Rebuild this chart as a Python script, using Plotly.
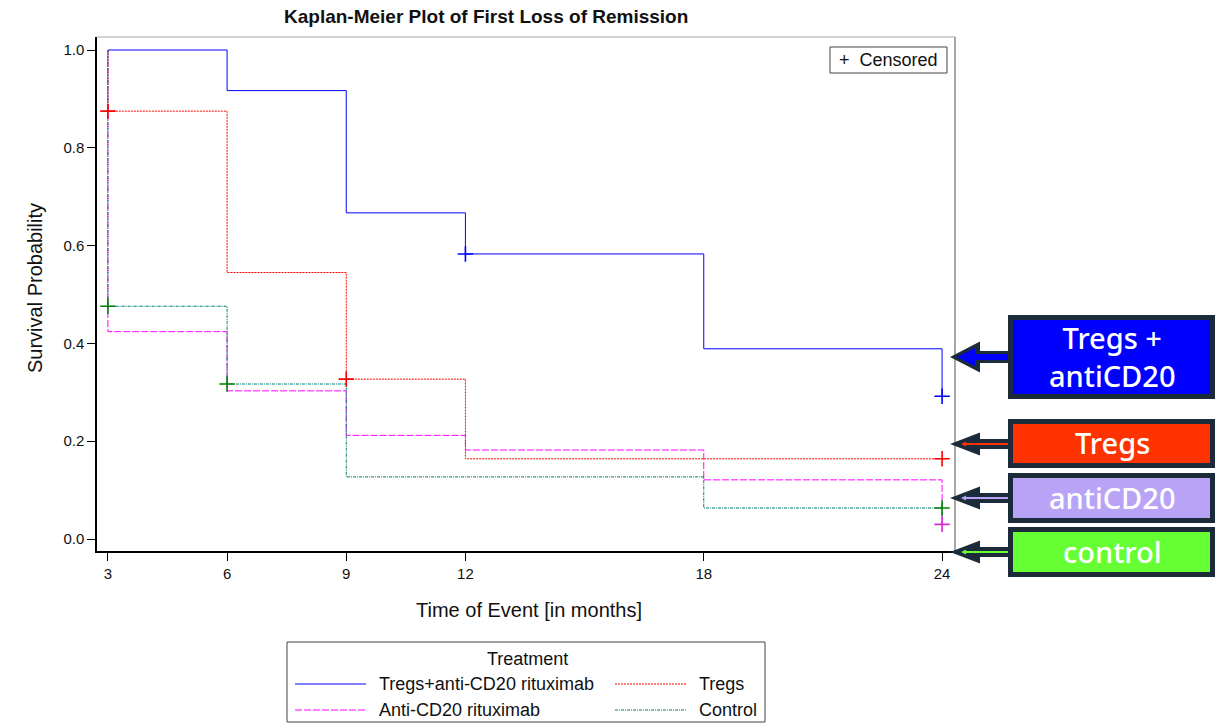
import plotly.graph_objects as go

# Kaplan-Meier step data (time in months, survival probability)
treg_cd20_t = [3, 6, 9, 12, 18, 24, 24]
treg_cd20_s = [1.0, 0.917, 0.667, 0.583, 0.389, 0.389, 0.292]
tregs_t = [3, 3, 6, 9, 12, 24]
tregs_s = [1.0, 0.875, 0.545, 0.327, 0.164, 0.164]
cd20_t = [3, 3, 6, 9, 12, 18, 24, 24]
cd20_s = [1.0, 0.424, 0.303, 0.212, 0.182, 0.121, 0.121, 0.030]
control_t = [3, 3, 6, 9, 18, 24]
control_s = [1.0, 0.476, 0.317, 0.127, 0.0635, 0.0635]

# Censored observations
treg_cd20_cens_t = [12, 24]
treg_cd20_cens_s = [0.583, 0.292]
tregs_cens_t = [3, 9, 24]
tregs_cens_s = [0.875, 0.327, 0.164]
cd20_cens_t = [24]
cd20_cens_s = [0.030]
control_cens_t = [3, 6, 24]
control_cens_s = [0.476, 0.317, 0.0635]

x_ticks = [3, 6, 9, 12, 18, 24]
y_ticks = [0.0, 0.2, 0.4, 0.6, 0.8, 1.0]

series_names = ["Tregs+anti-CD20 rituximab", "Tregs", "Anti-CD20 rituximab", "Control"]
line_colors = ["#0000ff", "#ff0000", "#ff00ff", "#007a6e"]
line_dashes = ["solid", "2px,1px", "7px,2px", "3px,1px,1px,1px"]
cens_colors = ["#0000ff", "#ff0000", "#d02ad0", "#008000"]

label_texts = ["Tregs +<br>antiCD20", "Tregs", "antiCD20", "control"]
label_fills = ["#0000ff", "#ff3300", "#b9a3f7", "#66ff33"]

W, H = 1217, 728
L, R, T, B = 97, 955, 37, 551


def px(x):
    return (x - L) / (R - L)


def py(y):
    return (B - y) / (B - T)


fig = go.Figure()

curves = [(treg_cd20_t, treg_cd20_s), (tregs_t, tregs_s), (cd20_t, cd20_s), (control_t, control_s)]
cens = [(treg_cd20_cens_t, treg_cd20_cens_s), (tregs_cens_t, tregs_cens_s),
        (cd20_cens_t, cd20_cens_s), (control_cens_t, control_cens_s)]

for (t, s), name, c, d in zip(curves, series_names, line_colors, line_dashes):
    fig.add_trace(go.Scatter(x=t, y=s, mode="lines", name=name, line_shape="hv",
                             line=dict(color=c, width=1, dash=d), showlegend=False))

for (t, s), c in zip(cens, cens_colors):
    fig.add_trace(go.Scatter(x=t, y=s, mode="markers", showlegend=False, cliponaxis=False,
                             marker=dict(symbol="cross-thin", size=11,
                                         line=dict(color=c, width=1.6))))

shapes = []
annotations = []
txt_col = "#111111"

# frame: top and right borders
shapes.append(dict(type="line", xref="paper", yref="paper", x0=0, x1=1, y0=1, y1=1,
                   line=dict(color="#c4c4c4", width=1.5)))
shapes.append(dict(type="line", xref="paper", yref="paper", x0=1, x1=1, y0=0, y1=1,
                   line=dict(color="#8a8a8a", width=1.5)))

# censored key box
shapes.append(dict(type="rect", xref="paper", yref="paper", x0=px(830), x1=px(947),
                   y0=py(73), y1=py(47), line=dict(color="#444444", width=1)))
annotations.append(dict(text="+  Censored", xref="paper", yref="paper", x=px(888), y=py(60),
                        xanchor="center", yanchor="middle", showarrow=False,
                        font=dict(size=18, color=txt_col)))

# treatment key box
shapes.append(dict(type="rect", xref="paper", yref="paper", x0=px(287), x1=px(765),
                   y0=py(722), y1=py(642), line=dict(color="#444444", width=1)))
annotations.append(dict(text="Treatment", xref="paper", yref="paper", x=px(527), y=py(659),
                        xanchor="center", yanchor="middle", showarrow=False,
                        font=dict(size=18, color=txt_col)))
key_pos = [(295, 366, 377, 684), (615, 687, 697, 684), (295, 366, 377, 710), (615, 687, 697, 710)]
for (x0, x1, tx, yy), name, c, d in zip(key_pos, series_names, line_colors, line_dashes):
    shapes.append(dict(type="line", xref="paper", yref="paper", x0=px(x0), x1=px(x1),
                       y0=py(yy), y1=py(yy), line=dict(color=c, width=1, dash=d)))
    annotations.append(dict(text=name, xref="paper", yref="paper", x=px(tx), y=py(yy),
                            xanchor="left", yanchor="middle", showarrow=False,
                            font=dict(size=18, color=txt_col)))

# labelled callout boxes with arrows on the right
dark = "#1c2b39"
boxes = [(315, 399, 357, 15.5, 6), (419, 468, 444, 11.5, 5), (473, 523, 498, 11.5, 5),
         (527, 577, 552, 11.5, 5)]
for i, ((y0, y1, yc, hh, sh), txt, fill) in enumerate(zip(boxes, label_texts, label_fills)):
    # dark arrow
    path = (f"M {px(950)},{py(yc)} L {px(980)},{py(yc - hh)} L {px(980)},{py(yc - sh)} "
            f"L {px(1010)},{py(yc - sh)} L {px(1010)},{py(yc + sh)} L {px(980)},{py(yc + sh)} "
            f"L {px(980)},{py(yc + hh)} Z")
    shapes.append(dict(type="path", xref="paper", yref="paper", path=path,
                       fillcolor=dark, line=dict(width=0)))
    # inner coloured arrow
    if i == 0:
        ih, ish = 9, 3
        ipath = (f"M {px(957)},{py(yc)} L {px(975)},{py(yc - ih)} L {px(975)},{py(yc - ish)} "
                 f"L {px(1010)},{py(yc - ish)} L {px(1010)},{py(yc + ish)} L {px(975)},{py(yc + ish)} "
                 f"L {px(975)},{py(yc + ih)} Z")
    else:
        ih, ish = 2.5, 1
        ipath = (f"M {px(961)},{py(yc)} L {px(966)},{py(yc - ih)} L {px(966)},{py(yc - ish)} "
                 f"L {px(1010)},{py(yc - ish)} L {px(1010)},{py(yc + ish)} L {px(966)},{py(yc + ish)} "
                 f"L {px(966)},{py(yc + ih)} Z")
    shapes.append(dict(type="path", xref="paper", yref="paper", path=ipath,
                       fillcolor=fill, line=dict(width=0)))
    # box
    shapes.append(dict(type="rect", xref="paper", yref="paper", x0=px(1008), x1=px(1215),
                       y0=py(y1), y1=py(y0), fillcolor=dark, line=dict(width=0)))
    shapes.append(dict(type="rect", xref="paper", yref="paper", x0=px(1013), x1=px(1210),
                       y0=py(y1 - 5), y1=py(y0 + 5), fillcolor=fill, line=dict(width=0)))
    annotations.append(dict(text=txt, xref="paper", yref="paper", x=px(1112),
                            y=py((y0 + y1) / 2 - 1), xanchor="center", yanchor="middle",
                            showarrow=False,
                            font=dict(size=29, color="white", family="Noto Sans", weight=500)))

# title and axis titles
annotations.append(dict(text="<b>Kaplan-Meier Plot of First Loss of Remission</b>", xref="paper",
                        yref="paper", x=px(486), y=py(17), xanchor="center", yanchor="middle",
                        showarrow=False, font=dict(size=19, color=txt_col)))
annotations.append(dict(text="Time of Event [in months]", xref="paper", yref="paper",
                        x=px(529), y=py(610), xanchor="center", yanchor="middle",
                        showarrow=False, font=dict(size=20, color=txt_col)))
annotations.append(dict(text="Survival Probability", xref="paper", yref="paper",
                        x=px(35), y=py(288), xanchor="center", yanchor="middle", textangle=-90,
                        showarrow=False, font=dict(size=20, color=txt_col)))

fig.update_layout(
    width=W, height=H,
    margin=dict(l=L, r=W - R, t=T, b=H - B),
    paper_bgcolor="white", plot_bgcolor="white",
    font=dict(family="Liberation Sans, Arial, sans-serif", color=txt_col),
    shapes=shapes, annotations=annotations, showlegend=False,
    xaxis=dict(range=[2.725, 24.325], tickvals=x_ticks, ticktext=[str(v) for v in x_ticks],
               showgrid=False, zeroline=False, showline=True, linecolor="black", linewidth=1.5,
               ticks="outside", ticklen=8, tickwidth=1, tickcolor="black",
               tickfont=dict(size=15, color=txt_col)),
    yaxis=dict(range=[-0.0245, 1.0266], tickvals=y_ticks, tickformat=".1f",
               showgrid=False, zeroline=False, showline=True, linecolor="black", linewidth=1.5,
               ticks="outside", ticklen=8, tickwidth=1, tickcolor="black",
               tickfont=dict(size=15, color=txt_col)),
)

fig.write_html("out.html")
